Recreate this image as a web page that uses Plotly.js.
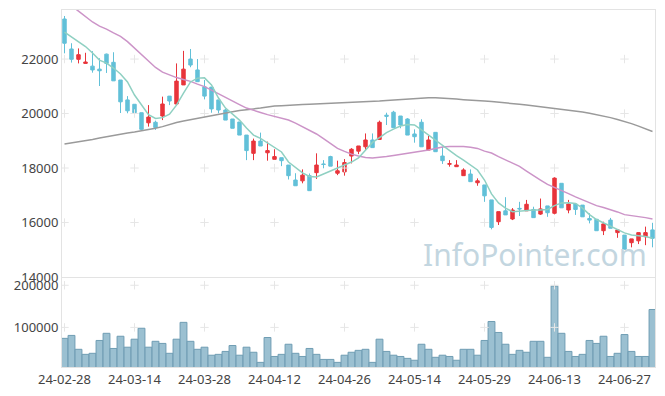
<!DOCTYPE html>
<html>
<head>
<meta charset="utf-8">
<script src="https://cdn.plot.ly/plotly-3.0.1.min.js"></script>
<style>html,body{margin:0;padding:0;background:#fff;}#chart{width:665px;height:396px;}</style>
</head>
<body>
<div id="chart"></div>
<script>
const dates = [
"24-02-28","24-02-29",
"24-03-04","24-03-05","24-03-06","24-03-07","24-03-08","24-03-11","24-03-12","24-03-13","24-03-14","24-03-15",
"24-03-18","24-03-19","24-03-20","24-03-21","24-03-22","24-03-25","24-03-26","24-03-27","24-03-28","24-03-29",
"24-04-01","24-04-02","24-04-03","24-04-04","24-04-05","24-04-08","24-04-09","24-04-11","24-04-12","24-04-15",
"24-04-16","24-04-17","24-04-18","24-04-19","24-04-22","24-04-23","24-04-24","24-04-25","24-04-26","24-04-29","24-04-30",
"24-05-02","24-05-03","24-05-07","24-05-08","24-05-09","24-05-10","24-05-13","24-05-14","24-05-16","24-05-17",
"24-05-20","24-05-21","24-05-22","24-05-23","24-05-24","24-05-27","24-05-28","24-05-29","24-05-30","24-05-31",
"24-06-03","24-06-04","24-06-05","24-06-07","24-06-10","24-06-11","24-06-12","24-06-13","24-06-14","24-06-17",
"24-06-18","24-06-19","24-06-20","24-06-21","24-06-24","24-06-25","24-06-26","24-06-27","24-06-28",
"24-07-01","24-07-02","24-07-03"];

const openP  = [23470,22370,21990,21840,21740,21630,22180,21880,21230,20500,
                20340,20030,19660,19680,19910,20640,20350,21050,22000,21600,
                20980,20970,20500,20130,19800,19690,19210,18540,18990,18560,
                18320,18380,18110,17560,17530,17720,17830,18150,18420,17810,
                17860,18440,18620,18780,19030,19050,19940,20050,19910,19800,
                19250,19680,18660,19310,18440,18140,18050,17720,17780,17460,
                17380,16830,16030,16430,16130,16520,16430,16480,16310,16610,
                16340,17440,16460,16680,16640,16150,16120,15700,16090,15630,
                15540,15260,15330,15480,15730];
const highP  = [23580,22580,22390,22230,22290,22030,22200,22250,21230,20640,
                20340,20030,20310,19740,20620,20640,21840,22300,22370,22000,
                21230,20970,20500,20170,19800,19690,19210,19080,19300,18970,
                18690,18380,18110,17810,17950,17800,18540,18290,18450,18270,
                18330,18730,18810,19270,19270,19740,20030,20100,19910,19830,
                19420,19790,19180,19310,18780,18290,18290,17990,17950,17620,
                17380,16830,16400,16930,16530,16760,16830,16580,16880,16610,
                17660,17440,16830,16680,16640,16340,16120,16030,16170,15730,
                15540,15400,15630,15850,15990];
const lowP   = [22210,21870,21840,21840,21500,21010,21490,21200,20020,20010,
                19910,19360,19520,19400,19760,20310,20350,21050,21700,21170,
                20520,20030,20010,19760,19460,19210,18290,18290,18810,18270,
                18320,18070,17580,17350,17440,17170,17600,17990,18070,17740,
                17720,18170,18510,18660,18750,19050,19580,19480,19460,19210,
                18930,18780,18660,18600,18150,18050,18050,17720,17500,17350,
                16760,15750,15910,16280,16090,16240,16430,16180,16280,16210,
                16300,16540,16340,16280,16210,15970,15700,15540,15790,15440,
                15020,15090,15210,15170,15090];
const closeP = [22580,21990,22160,21890,21600,21570,21840,21200,20430,20100,
                20030,19420,19870,19490,20350,20460,21190,21630,21780,21170,
                20640,20170,20130,19760,19460,19210,18640,18990,18810,18640,
                18420,18270,17720,17350,17740,17170,18110,18130,18070,17900,
                18200,18690,18810,19030,18750,19680,19900,19480,19580,19210,
                19150,18780,19030,18600,18270,18160,18110,17930,17500,17530,
                16980,15820,16400,16280,16460,16500,16670,16180,16500,16360,
                17630,16540,16680,16480,16210,16090,15700,15950,15790,15730,
                15020,15400,15630,15630,15420];
const volume = [74000,81000,48000,36000,38500,69000,86000,50000,79000,53000,
                72000,98000,53000,67000,62000,38500,72000,112000,67000,48000,
                53000,34000,36000,43000,57000,34000,53000,41000,17000,76000,
                31000,36000,60000,38500,31000,50000,36000,24000,24000,17000,
                34000,41000,45500,48000,17000,72000,43000,34000,31000,26500,
                22000,60000,48000,29000,34000,31000,22000,48000,48000,34000,
                69000,114000,88000,60000,36000,45500,41000,67000,67000,29000,
                198000,86000,43000,31000,36000,69000,62000,79000,31000,38500,
                83000,43000,31000,31000,142500];
const ma5 = [22990,22810,22640,22460,22220,21960,21850,21670,21450,21160,
             20680,20310,19960,19820,19850,19980,20310,20750,21160,21300,
             21310,21050,20570,20200,19980,19760,19470,19210,19090,18920,
             18730,18590,18220,18020,17820,17690,17670,17780,17890,18000,
             18110,18220,18370,18660,18940,19120,19300,19430,19540,19600,
             19580,19400,19210,19030,18810,18620,18460,18290,18110,17930,
             17560,17050,16720,16530,16400,16420,16460,16460,16460,16480,
             16620,16720,16730,16700,16530,16290,16110,15980,15870,15740,
             15620,15540,15520,15490,15420];
const ma20 = [24100,23950,23760,23560,23360,23210,23100,22960,22830,22640,
              22400,22180,21930,21690,21520,21410,21320,21250,21180,21080,
              20990,20860,20720,20590,20460,20330,20200,20130,20040,19960,
              19890,19840,19760,19650,19520,19400,19250,19080,18900,18720,
              18610,18510,18440,18390,18370,18390,18420,18460,18500,18530,
              18570,18610,18660,18720,18770,18790,18800,18790,18760,18720,
              18620,18550,18420,18290,18180,18060,17890,17740,17560,17400,
              17290,17190,17060,16940,16830,16720,16620,16550,16480,16390,
              16290,16260,16220,16180,16130];
const ma60 = [18880,18920,18960,18990,19050,19100,19150,19190,19250,19290,
              19320,19360,19410,19460,19520,19600,19670,19730,19780,19840,
              19870,19930,19980,20040,20070,20110,20150,20170,20200,20240,
              20280,20290,20310,20320,20330,20340,20350,20360,20370,20390,
              20400,20410,20420,20430,20440,20460,20480,20500,20510,20530,
              20550,20570,20580,20580,20570,20550,20530,20510,20500,20480,
              20460,20440,20420,20400,20370,20340,20310,20280,20260,20230,
              20200,20170,20130,20090,20060,20010,19960,19910,19850,19780,
              19710,19630,19540,19450,19340];
const priceTicks = [14000,16000,18000,20000,22000];
const volTicks = [100000,200000];
const tickDates = dates.filter((d,i)=> i % 10 === 0);

const font = {family:'"Noto Sans", "Open Sans", sans-serif', size:13, color:'#444'};

// grid crosses at tick intersections
const crossPX = [], crossPY = [], crossVX = [], crossVY = [];
tickDates.forEach(d => {
  priceTicks.slice(1).forEach(v => { crossPX.push(d); crossPY.push(v); });
  volTicks.forEach(v => { crossVX.push(d); crossVY.push(v); });
});

const crossMarker = {symbol:'cross-thin', size:6, line:{color:'#e6e6e6', width:1}};
const traces = [
  {type:'scatter', mode:'markers', x:crossPX, y:crossPY, xaxis:'x', yaxis:'y',
   marker:crossMarker, hoverinfo:'skip'},
  {type:'scatter', mode:'markers', x:crossVX, y:crossVY, xaxis:'x2', yaxis:'y2',
   marker:crossMarker, hoverinfo:'skip'},
  {type:'candlestick', x:dates, open:openP, high:highP, low:lowP, close:closeP,
   xaxis:'x', yaxis:'y', whiskerwidth:0,
   increasing:{line:{color:'#e8343b', width:1}, fillcolor:'#e8343b'},
   decreasing:{line:{color:'#62c0d8', width:1}, fillcolor:'#62c0d8'}},
  {type:'bar', x:dates, y:volume, xaxis:'x2', yaxis:'y2',
   marker:{color:'#9bc0d1', line:{color:'#6f9db3', width:1}}},
  {type:'scatter', mode:'lines', x:dates, y:ma60, xaxis:'x', yaxis:'y',
   line:{color:'#9a9a9a', width:1.5}},
  {type:'scatter', mode:'lines', x:dates, y:ma20, xaxis:'x', yaxis:'y',
   line:{color:'#cc94c8', width:1.5}},
  {type:'scatter', mode:'lines', x:dates, y:ma5, xaxis:'x', yaxis:'y',
   line:{color:'#8fd0c2', width:1.5}}
];

const axisLine = '#e3e3e3';
const layout = {
  width:665, height:396,
  margin:{l:62, r:10, t:10, b:29},
  paper_bgcolor:'#ffffff', plot_bgcolor:'#ffffff',
  showlegend:false,
  bargap:0.02,
  xaxis:{type:'category', categoryorder:'array', categoryarray:dates,
         range:[-0.357, 84.357], anchor:'y', showticklabels:false,
         showgrid:false, zeroline:false, showline:true, mirror:true, linecolor:axisLine,
         rangeslider:{visible:false}, ticks:''},
  xaxis2:{type:'category', categoryorder:'array', categoryarray:dates, matches:'x', anchor:'y2',
          tickvals:tickDates, ticktext:tickDates,
          showgrid:false, zeroline:false, showline:true, mirror:true, linecolor:axisLine,
          ticks:'', tickfont:font, tickangle:0},
  yaxis:{domain:[0.252,1], range:[14000,23800], tickvals:priceTicks, tickformat:'d',
         showgrid:false, zeroline:false, showline:true, mirror:true, linecolor:axisLine,
         ticks:'', tickfont:font},
  yaxis2:{domain:[0,0.249], range:[6000,217000], tickvals:volTicks, tickformat:'d',
          showgrid:false, zeroline:false, showline:true, mirror:true, linecolor:axisLine,
          ticks:'', tickfont:font},
  annotations:[{text:'InfoPointer.com', xref:'paper', yref:'paper', x:0.99, y:0.314,
                xanchor:'right', yanchor:'middle', showarrow:false,
                font:{family:'"Noto Sans", "Open Sans", sans-serif', size:30, color:'#c3d6e0'}}]
};

Plotly.newPlot('chart', traces, layout, {displayModeBar:false, staticPlot:true});
</script>
</body>
</html>
